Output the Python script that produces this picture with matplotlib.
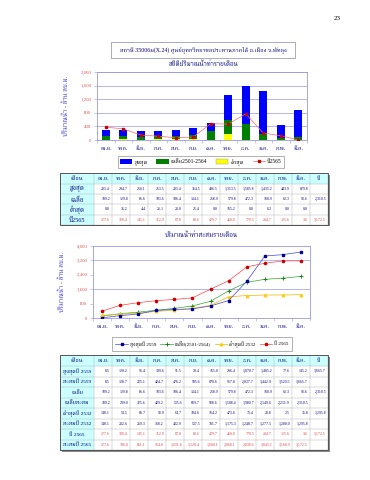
import numpy as np
import matplotlib
matplotlib.use("Agg")
import matplotlib.pyplot as plt
from matplotlib.patches import Rectangle
from matplotlib.lines import Line2D

plt.rcParams['font.family'] = ['Liberation Serif', 'Noto Serif Thai']

months = ['เม.ย.', 'พ.ค.', 'มิ.ย.', 'ก.ค.', 'ส.ค.', 'ก.ย.', 'ต.ค.', 'พ.ย.', 'ธ.ค.', 'ม.ค.', 'ก.พ.', 'มี.ค.']

# ตารางที่ 1 (รายเดือน)
q_max = [283.4, 294.7, 250.1, 253.5, 283.4, 354.5, 496.5, 1313.5, 1585.8, 1435.2, 443.9, 879.8]
q_mean = [109.2, 129.8, 86.6, 103.6, 106.4, 134.1, 258.9, 579.8, 472.3, 168.9, 62.3, 98.6]
q_min = [0.0, 35.2, 4.4, 26.1, 20.0, 25.4, 0.0, 165.2, 0.0, 6.3, 0.0, 0.0]
q_2565 = [377.6, 328.4, 145.1, 112.9, 67.8, 88.6, 479.7, 468.0, 770.5, 204.7, 125.6, 3.6]

# ตารางที่ 2 (สะสม)
q_max_2559 = [8.5, 120.2, 96.4, 199.6, 51.5, 29.4, 165.0, 296.4, 1070.7, 1405.2, 77.6, 145.2]
q_min_2532 = [148.1, 54.5, 66.7, 98.9, 64.7, 104.6, 164.2, 473.6, 73.4, 28.8, 2.5, 15.8]

station = 'สถานี 35006ม(X.24) ศูนย์อุทกวิทยาชลประทานภาคใต้ อ.เมือง จ.พัทลุง'
title1 = 'สถิติปริมาณน้ำท่ารายเดือน'
title2 = 'ปริมาณน้ำท่าสะสมรายเดือน'
ylab = 'ปริมาณน้ำ - ล้าน ลบ.ม.'

navy = '#000080'
grid_c = '#9999E6'
tick_red = '#E05050'


def fmt(v):
    return '{:,.1f}'.format(v)


def px(x, y, w, h):
    # แปลงพิกเซลเป็นสัดส่วนของรูป
    return [x / 370, 1 - (y + h) / 480, w / 370, h / 480]


def style_axes(ax):
    for s in ax.spines.values():
        s.set_color(grid_c)
        s.set_linewidth(0.6)
    ax.tick_params(axis='y', colors=grid_c, labelcolor=tick_red, labelsize=3.5, length=2, width=0.4, pad=2)
    ax.tick_params(axis='x', which='major', length=0, labelcolor=navy, labelsize=4, pad=4)
    ax.tick_params(axis='x', which='minor', length=2, width=0.4, color=grid_c)
    ax.set_xticks(np.arange(12))
    ax.set_xticks(np.arange(-0.5, 12, 1), minor=True)
    ax.set_xticklabels(months)
    ax.set_xlim(-0.5, 11.5)
    ax.set_ylabel(ylab, color='#3333CC', fontsize=4.5, labelpad=8)


def draw_table(ax, x0, y0, row_h, head_h, labels, rows, annual, red_rows, label_fs=4.5,
               label_w=34, col_w=18):
    n = len(rows)
    width = label_w + col_w * 13
    height = head_h + row_h * n
    # เงาด้านขวาและด้านล่าง
    ax.add_patch(Rectangle((x0 + 1.5, y0 + 1.5), width, height, fc='#888888', ec='none', zorder=1))
    ax.add_patch(Rectangle((x0, y0), width, height, fc='white', ec='none', zorder=2))
    ax.add_patch(Rectangle((x0, y0), width, head_h, fc='#CCFFFF', ec='none', zorder=2))
    ax.add_patch(Rectangle((x0, y0), label_w, height, fc='#CCFFFF', ec='none', zorder=2))
    heads = ['เดือน'] + months + ['ปี']
    xs = [x0 + label_w / 2] + [x0 + label_w + col_w * (i + 0.5) for i in range(13)]
    for xx, h in zip(xs, heads):
        ax.text(xx, y0 + head_h / 2, h, ha='center', va='center', fontsize=4, color=navy, zorder=3)
    for r in range(n):
        yc = y0 + head_h + row_h * (r + 0.5)
        c = '#E04040' if r in red_rows else navy
        ax.text(xs[0], yc, labels[r], ha='center', va='center', fontsize=label_fs, color=navy, zorder=3)
        vals = list(rows[r]) + [annual[r]]
        for i, v in enumerate(vals):
            if v is None:
                continue
            ax.text(x0 + label_w + col_w * (i + 1) - 2, yc, fmt(v), ha='right', va='center',
                    fontsize=2.8, color=c, zorder=3)
    # เส้นตาราง
    for r in range(n + 1):
        yy = y0 + head_h + row_h * r
        ax.plot([x0, x0 + width], [yy, yy], color='#AAAAAA', lw=0.3, zorder=3)
    for i in range(14):
        xx = x0 + label_w + col_w * i
        ax.plot([xx, xx], [y0, y0 + height], color='#AAAAAA', lw=0.3, zorder=3)
    ax.add_patch(Rectangle((x0, y0), width, height, fc='none', ec='#555555', lw=0.7, zorder=4))


fig = plt.figure(figsize=(3.7, 4.8), dpi=100)

# ---------- กราฟที่ 1 ----------
ax1 = fig.add_axes(px(97, 72, 210, 68))
x = np.arange(12)
ax1.bar(x, q_max, width=0.45, color='#0000FF', zorder=2)
ax1.bar(x, q_mean, width=0.45, color='#008000', zorder=3)
ax1.bar(x, q_min, width=0.45, color='#FFFF00', zorder=4)
ax1.plot(x, q_2565, color='#FF6666', lw=0.5, marker='s', ms=1.6, mfc='#CC0000', mec='#CC0000', zorder=5)
ax1.set_ylim(0, 2000)
ax1.set_yticks(np.arange(0, 2001, 400))
ax1.set_yticklabels(['{:,}'.format(v) for v in range(0, 2001, 400)])
ax1.yaxis.grid(True, color=grid_c, lw=0.5)
ax1.set_axisbelow(True)
style_axes(ax1)

h1 = [Rectangle((0, 0), 1, 1, fc='#0000FF'), Rectangle((0, 0), 1, 1, fc='#008000'),
      Rectangle((0, 0), 1, 1, fc='#FFFF00', ec='#999999', lw=0.3),
      Line2D([], [], color='#FF6666', lw=0.5, marker='s', ms=1.6, mfc='#CC0000', mec='#CC0000')]
leg1 = fig.legend(h1, ['สูงสุด', 'เฉลี่ย2501-2564', 'ต่ำสุด', 'ปี2565'], loc='center',
                  bbox_to_anchor=(201 / 370, 1 - 162 / 480), ncol=4, fontsize=4, frameon=True,
                  fancybox=False, handlelength=2.2, handleheight=0.8, columnspacing=1.6,
                  handletextpad=0.4, borderpad=0.4)
leg1.get_frame().set_edgecolor('#777777')
leg1.get_frame().set_linewidth(0.5)

# ---------- กราฟที่ 2 ----------
cum_max = np.cumsum(q_max_2559)
cum_mean = np.cumsum(q_mean)
cum_min = np.cumsum(q_min_2532)
cum_2565 = np.cumsum(q_2565)

ax2 = fig.add_axes(px(93, 246, 217, 72))
ax2.plot(x, cum_max, color='#4444DD', lw=0.5, marker='s', ms=1.6, mfc='#000099', mec='#000099', zorder=4)
ax2.plot(x, cum_mean, color='#33AA33', lw=0.5, marker='+', ms=2.5, mec='#008000', mew=0.6, zorder=3)
ax2.plot(x, cum_min, color='#E6B800', lw=0.5, marker='^', ms=1.8, mfc='#FFCC00', mec='#FFCC00', zorder=3)
ax2.plot(x, cum_2565, color='#FF4444', lw=0.5, marker='o', ms=1.6, mfc='#CC0000', mec='#CC0000', zorder=5)
ax2.set_ylim(0, 4000)
ax2.set_yticks(np.arange(0, 4001, 800))
ax2.set_yticklabels(['{:,}'.format(v) for v in range(0, 4001, 800)])
for v in [1600, 3200]:
    ax2.axhline(v, color=grid_c, lw=0.5, zorder=1)
style_axes(ax2)

h2 = [Line2D([], [], color='#4444DD', lw=0.5, marker='s', ms=1.6, mfc='#000099', mec='#000099'),
      Line2D([], [], color='#33AA33', lw=0.5, marker='+', ms=2.5, mec='#008000', mew=0.6),
      Line2D([], [], color='#E6B800', lw=0.5, marker='^', ms=1.8, mfc='#FFCC00', mec='#FFCC00'),
      Line2D([], [], color='#FF4444', lw=0.5, marker='o', ms=1.6, mfc='#CC0000', mec='#CC0000')]
leg2 = fig.legend(h2, ['สูงสุดปี 2559', 'เฉลี่ย(2501-2564)', 'ต่ำสุดปี 2532', 'ปี 2565'], loc='center',
                  bbox_to_anchor=(202 / 370, 1 - 344 / 480), ncol=4, fontsize=3.6, frameon=True,
                  fancybox=False, handlelength=2.5, columnspacing=0.8, handletextpad=0.4, borderpad=0.7)
leg2.get_frame().set_edgecolor('#777777')
leg2.get_frame().set_linewidth(0.5)

# ---------- ข้อความและตาราง ----------
page = fig.add_axes([0, 0, 1, 1], zorder=-1)
page.set_xlim(0, 370)
page.set_ylim(480, 0)
page.axis('off')

page.text(337, 19, '23', ha='center', va='center', fontsize=5)
page.add_patch(Rectangle((111, 42), 184, 16, fc='none', ec='#8888AA', lw=0.5))
page.text(203, 50, station, ha='center', va='center', fontsize=4.2, color=navy)
page.text(203, 64, title1, ha='center', va='center', fontsize=4.5, color=navy, fontweight='bold')
page.text(201, 235, title2, ha='center', va='center', fontsize=4.5, color=navy, fontweight='bold')

draw_table(page, 60, 173, 10.2, 11,
           ['สูงสุด', 'เฉลี่ย', 'ต่ำสุด', 'ปี2565'],
           [q_max, q_mean, q_min, q_2565],
           [None, sum(q_mean), None, sum(q_2565)], red_rows=[3])

draw_table(page, 60, 355, 10.5, 11,
           ['สูงสุดปี 2559', 'สะสมปี 2559', 'เฉลี่ย', 'เฉลี่ยสะสม',
            'ต่ำสุดปี 2532', 'สะสมปี 2532', 'ปี 2565', 'สะสมปี 2565'],
           [q_max_2559, cum_max, q_mean, cum_mean, q_min_2532, cum_min, q_2565, cum_2565],
           [sum(q_max_2559), None, sum(q_mean), None, sum(q_min_2532), None, sum(q_2565), None],
           red_rows=[6, 7], label_fs=3.9)

fig.savefig('out.png', dpi=100)
